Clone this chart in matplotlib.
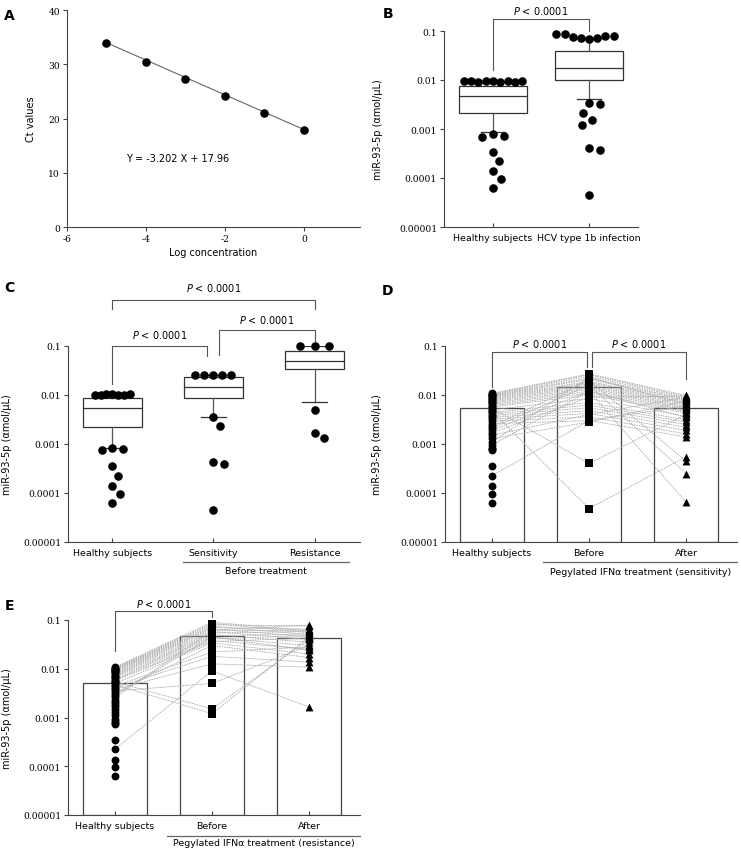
import numpy as np
import matplotlib
matplotlib.use('Agg')
import matplotlib.pyplot as plt
from matplotlib.ticker import NullLocator

plt.rcParams['font.family'] = ['DejaVu Sans']
plt.rcParams['axes.linewidth'] = 0.8
plt.rcParams['axes.unicode_minus'] = False

# ---- panel A: standard curve
log_conc = [-5, -4, -3, -2, -1, 0]
ct_values = [33.9, 30.5, 27.3, 24.2, 21.1, 17.9]
fit_slope = -3.202
fit_icept = 17.96

# ---- panel B: healthy vs HCV 1b (box stats + outlying points)
b_groups = ['Healthy subjects', 'HCV type 1b infection']
b_q1 = [0.0021, 0.0098]
b_med = [0.0047, 0.0179]
b_q3 = [0.0074, 0.039]
b_lo = [0.00085, 0.0040]
b_hi = [0.0093, 0.072]
b_healthy_top = [0.0094, 0.0093, 0.0095, 0.0092, 0.0096, 0.0093, 0.0094, 0.0095, 0.0096]
b_healthy_low = [0.00078, 0.00072, 0.00070, 0.00034, 0.000219, 0.000137, 0.000094, 0.0000636]
b_hcv_top = [0.069, 0.071, 0.073, 0.075, 0.078, 0.080, 0.085, 0.087]
b_hcv_low = [0.00334, 0.00329, 0.00215, 0.00153, 0.00122, 0.000403, 0.000378, 0.0000443]

# ---- panel C: healthy / sensitivity / resistance
c_groups = ['Healthy subjects', 'Sensitivity', 'Resistance']
c_q1 = [0.0022, 0.0088, 0.0333]
c_med = [0.0054, 0.0145, 0.0486]
c_q3 = [0.0086, 0.0232, 0.079]
c_lo = [0.00083, 0.0036, 0.0071]
c_hi = [0.0101, 0.026, 0.1]
c_healthy_top = [0.0103, 0.0101, 0.0104, 0.0100, 0.0102, 0.0101, 0.0103]
c_healthy_low = [0.00083, 0.00078, 0.00074, 0.000349, 0.000225, 0.000136, 0.0000946, 0.0000638]
c_sens_top = [0.026, 0.0262, 0.0258, 0.0261, 0.0259]
c_sens_low = [0.00363, 0.00237, 0.000421, 0.000389, 0.0000452]
c_res_top = [0.1, 0.1, 0.1]
c_res_low = [0.00505, 0.00166, 0.0013]

# ---- panels D/E: paired values
healthy = [0.0108, 0.0104, 0.0101, 0.0098, 0.0095, 0.0092, 0.0088, 0.0084, 0.0080, 0.0076,
           0.0072, 0.0068, 0.0064, 0.0060, 0.0057, 0.0054, 0.0050, 0.0047, 0.0044, 0.0041,
           0.0038, 0.0035, 0.0032, 0.0029, 0.0026, 0.000225, 0.0023, 0.0021, 0.0019, 0.0017,
           0.0015, 0.0013, 0.0011, 0.00095, 0.00083, 0.00078, 0.00074, 0.00035, 0.000136,
           0.0000946, 0.0000638]
sens_before = [0.027, 0.026, 0.024, 0.022, 0.021, 0.019, 0.018, 0.017, 0.016, 0.015,
               0.014, 0.013, 0.012, 0.011, 0.0100, 0.00040, 0.0085, 0.000048, 0.0070, 0.0062,
               0.0055, 0.0048, 0.0042, 0.0036, 0.0030, 0.0030, 0.020, 0.016, 0.012, 0.0090,
               0.0040, 0.0028, 0.023, 0.0120]
sens_after = [0.0098, 0.0092, 0.0087, 0.0082, 0.0078, 0.0074, 0.0070, 0.0066, 0.0062, 0.0058,
              0.0055, 0.0052, 0.0049, 0.0046, 0.0043, 0.0040, 0.0037, 0.00055, 0.0031, 0.0028,
              0.0025, 0.0022, 0.0019, 0.0016, 0.0014, 0.0060, 0.00045, 0.00025, 0.000065, 0.0095,
              0.0090, 0.0075, 0.0065, 0.0035]
res_before = [0.090, 0.085, 0.080, 0.075, 0.070, 0.066, 0.062, 0.058, 0.054, 0.050,
              0.047, 0.044, 0.041, 0.038, 0.036, 0.0015, 0.034, 0.0012, 0.022, 0.018,
              0.0126, 0.005, 0.030, 0.045, 0.060, 0.0090]
res_after = [0.060, 0.055, 0.075, 0.050, 0.065, 0.045, 0.079, 0.040, 0.058, 0.035,
             0.052, 0.030, 0.048, 0.025, 0.043, 0.040, 0.020, 0.045, 0.028, 0.0137,
             0.0108, 0.030, 0.017, 0.024, 0.062, 0.00165]
d_groups = ['Healthy subjects', 'Before', 'After']
d_bars = [0.0054, 0.0144, 0.0054]
e_bars = [0.0052, 0.0464, 0.043]

log_ticks = [1e-5, 1e-4, 1e-3, 1e-2, 1e-1]
log_labels = ['0.00001', '0.0001', '0.001', '0.01', '0.1']
ylab = 'miR-93-5p (\u03b1mol/\u03bcL)'
ptxt = r'$\it{P}$ < 0.0001'

W, H = 741, 854
fig = plt.figure(figsize=(W / 100, H / 100), dpi=100)


def px_axes(l, r, t, b):
    return fig.add_axes([l / W, 1 - b / H, (r - l) / W, (b - t) / H])


def style(ax):
    for s in ['top', 'right']:
        ax.spines[s].set_visible(False)
    for s in ['left', 'bottom']:
        ax.spines[s].set_color('#444')


def log_axis(ax, groups, lab_x):
    style(ax)
    ax.set_yscale('log')
    ax.set_ylim(1e-5, 0.1)
    ax.set_yticks(log_ticks)
    ax.set_yticklabels(log_labels, family='DejaVu Serif', fontsize=6.6)
    ax.yaxis.set_minor_locator(NullLocator())
    ax.set_xticks(range(len(groups)))
    ax.set_xticklabels(groups, fontsize=6.8)
    ax.tick_params(axis='y', direction='out', length=3, color='#444', pad=2)
    ax.tick_params(axis='x', direction='in', length=3, color='#444', pad=4)
    ax.set_ylabel(ylab, fontsize=7)
    ax.yaxis.set_label_coords(lab_x, 0.5)


def bracket(ax, x1, x2, y, y1, y2, ty):
    tr = ax.get_xaxis_transform()
    ax.plot([x1, x1, x2, x2], [y1, y, y, y2], transform=tr, color='#555', lw=0.8, clip_on=False)
    ax.text((x1 + x2) / 2, ty, ptxt, transform=tr, ha='center', va='center', fontsize=7)


def group_line(ax, x1, x2, y, ty, text):
    tr = ax.get_xaxis_transform()
    ax.plot([x1, x2], [y, y], transform=tr, color='#666', lw=0.9, clip_on=False)
    ax.text((x1 + x2) / 2, ty, text, transform=tr, ha='center', va='center', fontsize=6.8)


def swarm(vals, d, ppd=49.0):
    # simple beeswarm in pixel units
    placed = []
    offs = []
    for v in vals:
        y = np.log10(v) * ppd
        cands = [0.0]
        for px, py in placed:
            dy = y - py
            if abs(dy) < d:
                dx = np.sqrt(d * d - dy * dy)
                cands += [px + dx, px - dx]
        cands.sort(key=abs)
        for c in cands:
            if all((c - px) ** 2 + (y - py) ** 2 >= d * d - 1e-6 for px, py in placed):
                break
        placed.append((c, y))
        offs.append(c)
    return np.array(offs)


def boxes(ax, q1, med, q3, lo, hi, width, tops, lows, top_d, unit_px):
    stats = [dict(q1=a, med=m, q3=c, whislo=l, whishi=h, fliers=[])
             for a, m, c, l, h in zip(q1, med, q3, lo, hi)]
    ax.bxp(stats, positions=range(len(stats)), widths=width, showfliers=False,
           patch_artist=True, capwidths=0.25,
           boxprops=dict(facecolor='white', edgecolor='#333', lw=0.9),
           medianprops=dict(color='#333', lw=0.9),
           whiskerprops=dict(color='#555', lw=0.9),
           capprops=dict(color='#333', lw=0.9))
    for i in range(len(stats)):
        for p, d in [(tops[i], top_d[i]), (lows[i], 11.0)]:
            xs = i + swarm(p, d) / unit_px
            ax.scatter(xs, p, s=38, color='black', zorder=4, clip_on=False, linewidths=0)


def paired(ax, before, after, bars, mk_b):
    ax.bar(range(3), bars, width=0.66, bottom=1e-5, color='white', edgecolor='#444', lw=0.9, zorder=1)
    for i in range(len(before)):
        ax.plot([0, 1, 2], [healthy[i], before[i], after[i]], color='#aaaaaa', lw=0.6,
                ls=(0, (2, 1)), zorder=2)
    ax.scatter(np.zeros(len(healthy)), healthy, s=32, marker='o', color='black', zorder=3, linewidths=0)
    ax.scatter(np.ones(len(before)), before, s=30, marker=mk_b, color='black', zorder=3, linewidths=0)
    ax.scatter(np.full(len(after), 2), after, s=32, marker='^', color='black', zorder=3, linewidths=0)


# ---- A
axA = px_axes(67, 360, 11, 228)
style(axA)
axA.plot(log_conc, [fit_slope * x + fit_icept for x in log_conc], color='#666', lw=0.8, zorder=2)
axA.scatter(log_conc, ct_values, s=38, color='black', zorder=3, linewidths=0)
axA.set_xlim(-6, 1.42)
axA.set_ylim(0, 40)
axA.set_xticks([-6, -4, -2, 0])
axA.set_yticks([0, 10, 20, 30, 40])
for lab in axA.get_xticklabels() + axA.get_yticklabels():
    lab.set_family('DejaVu Serif')
    lab.set_fontsize(6.6)
axA.tick_params(direction='out', length=3, color='#444', pad=2)
axA.set_xlabel('Log concentration', fontsize=7, labelpad=3)
axA.set_ylabel('Ct values', fontsize=7)
axA.yaxis.set_label_coords(-0.106, 0.5)
axA.text(-3.2, 12.7, 'Y = -3.202 X + 17.96', fontsize=7, ha='center', va='center')

# ---- B
axB = px_axes(444, 638, 32, 228)
boxes(axB, b_q1, b_med, b_q3, b_lo, b_hi, 0.71,
      [b_healthy_top, b_hcv_top], [b_healthy_low, b_hcv_low], [7.3, 8.3], 96)
axB.set_xlim(-0.51, 1.51)
log_axis(axB, b_groups, -0.314)
bracket(axB, 0, 1, 1.061, 0.80, 1.0, 1.107)

# ---- C
axC = px_axes(68, 360, 347, 543)
boxes(axC, c_q1, c_med, c_q3, c_lo, c_hi, 0.58,
      [c_healthy_top, c_sens_top, c_res_top], [c_healthy_low, c_sens_low, c_res_low],
      [6.0, 9.0, 14.5], 101)
axC.set_xlim(-0.44, 2.45)
log_axis(axC, c_groups, -0.192)
bracket(axC, 0, 0.94, 1.0, 0.806, 0.949, 1.061)
bracket(axC, 1.05, 2, 1.082, 0.954, 1.026, 1.138)
bracket(axC, 0, 2, 1.235, 1.189, 1.189, 1.301)
group_line(axC, 0.70, 2.34, -0.102, -0.145, 'Before treatment')

# ---- D
axD = px_axes(445, 737, 347, 543)
paired(axD, sens_before, sens_after, d_bars, 's')
axD.set_xlim(-0.485, 2.526)
log_axis(axD, d_groups, -0.216)
bracket(axD, 0, 0.98, 0.969, 0.791, 0.893, 1.015)
bracket(axD, 1.03, 2, 0.969, 0.893, 0.832, 1.015)
group_line(axD, 0.53, 2.526, -0.102, -0.148, 'Pegylated IFN\u03b1 treatment (sensitivity)')

# ---- E
axE = px_axes(68, 360, 621, 816)
paired(axE, res_before, res_after, e_bars, 's')
axE.set_xlim(-0.485, 2.526)
log_axis(axE, d_groups, -0.192)
bracket(axE, 0, 1, 1.046, 0.841, 1.015, 1.087)
group_line(axE, 0.54, 2.526, -0.108, -0.142, 'Pegylated IFN\u03b1 treatment (resistance)')

# ---- panel letters
for letter, x, y in [('A', 9, 16), ('B', 388, 14), ('C', 9, 288), ('D', 388, 291), ('E', 9, 606)]:
    fig.text(x / W, 1 - y / H, letter, fontsize=10, fontweight='bold', ha='center', va='center')

fig.savefig('out.png', dpi=100)
